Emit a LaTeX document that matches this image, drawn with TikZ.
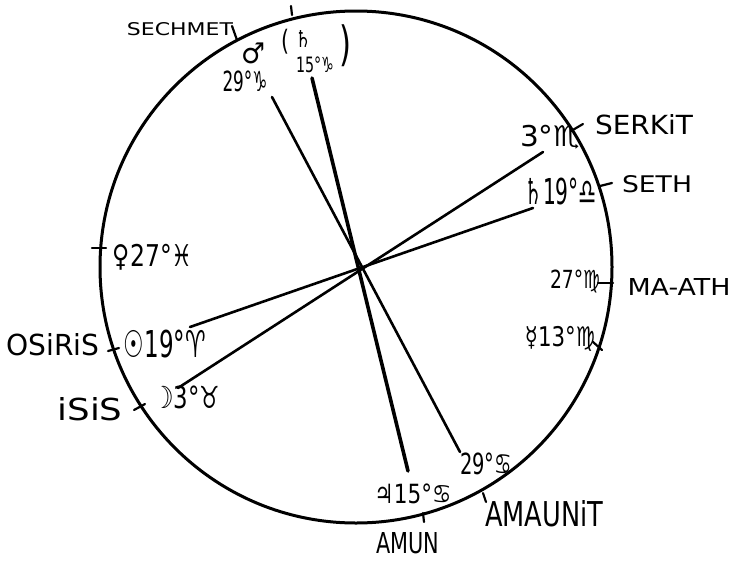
\documentclass[tikz,border=0pt]{standalone}
\usepackage{fontspec}
\setmainfont{DejaVu Sans}
\newcommand\fitwh[3]{\resizebox{#1pt}{#2pt}{#3}}
\newcommand\fitst[3]{\resizebox*{#1pt}{#2pt}{#3}}
\begin{document}
\begin{tikzpicture}[x=1pt,y=-1pt,
  lbl/.style={inner sep=0pt,outer sep=0pt,anchor=center},
  rim/.style={line width=3pt},
  ray/.style={line width=2.6pt,line cap=round},
  thickray/.style={line width=3.6pt,line cap=round},
  tick/.style={line width=2.2pt,line cap=round}]
\useasboundingbox (0,0) rectangle (734,560);
% circle
\coordinate (c) at (356,267);
\draw[rim] (c) circle[radius=256];
% ray end points
\coordinate (mars) at (272,97);
\coordinate (mars2) at (460,452);
\coordinate (sat) at (312,78);
\coordinate (sat2) at (408,471);
\coordinate (serk) at (543,152);
\coordinate (isisl) at (178,388);
\coordinate (seth) at (533,208);
\coordinate (osil) at (190,327);
\draw[ray] (mars) -- (mars2);
\draw[thickray] (sat) -- (sat2);
\draw[ray] (serk) -- (isisl);
\draw[ray] (seth) -- (osil);
% ticks
\coordinate (t1a) at (292,15); \coordinate (t1b) at (291,6);
\draw[tick] (t1a) -- (t1b);
\coordinate (t2a) at (232,26); \coordinate (t2b) at (237,40);
\draw[tick] (t2a) -- (t2b);
\coordinate (t3a) at (571,131); \coordinate (t3b) at (583,124);
\draw[tick] (t3a) -- (t3b);
\coordinate (t4a) at (600,186); \coordinate (t4b) at (612,183);
\draw[tick] (t4a) -- (t4b);
\coordinate (t5a) at (598,283); \coordinate (t5b) at (613,283);
\draw[tick] (t5a) -- (t5b);
\coordinate (t6a) at (593,342); \coordinate (t6b) at (602,350);
\draw[tick] (t6a) -- (t6b);
\coordinate (t7a) at (92,248); \coordinate (t7b) at (106,248);
\draw[tick] (t7a) -- (t7b);
\coordinate (t8a) at (108,351); \coordinate (t8b) at (119,348);
\draw[tick] (t8a) -- (t8b);
\coordinate (t9a) at (134,410); \coordinate (t9b) at (145,404);
\draw[tick] (t9a) -- (t9b);
\coordinate (t10a) at (423,513); \coordinate (t10b) at (424,522);
\draw[tick] (t10a) -- (t10b);
\coordinate (t11a) at (483,493); \coordinate (t11b) at (486,502);
\draw[tick] (t11a) -- (t11b);
% god names
\node[lbl] (sechmet) at (180,29) {\fitwh{106}{13}{SECHMET}};
\node[lbl] (serkit) at (644,125) {\fitwh{98}{20}{SERKiT}};
\node[lbl] (sethn) at (657,184) {\fitwh{70}{17}{SETH}};
\node[lbl] (maath) at (679,287) {\fitwh{103}{17}{MA-ATH}};
\node[lbl] (osiris) at (53,345) {\fitwh{93}{22}{OSiRiS}};
\node[lbl] (isis) at (90,409) {\fitwh{65}{23}{iSiS}};
\node[lbl] (amun) at (408,543) {\fitwh{63}{21}{AMUN}};
\node[lbl] (amaunit) at (544,514) {\fitwh{118}{26}{AMAUNiT}};
% planet positions
\node[lbl] (marsS) at (253,53) {\fitst{24}{21}{♂}};
\node[lbl] (lpar) at (285,42) {\fitst{8}{25}{(}};
\node[lbl] (satS) at (303,39) {\fitst{16}{17}{♄}};
\node[lbl] (rpar) at (345,46) {\fitst{12}{42}{)}};
\node[lbl] (sat15) at (315,65) {\fitst{38}{16}{15°♑}};
\node[lbl] (mars29) at (245,81) {\fitst{45}{21}{29°♑}};
\node[lbl] (serkdeg) at (550,137) {\fitst{60}{24}{3°♏}};
\node[lbl] (sethdeg) at (561,192) {\fitst{72}{27}{♄19°♎}};
\node[lbl] (maathdeg) at (575,281) {\fitst{50}{23}{27°♍}};
\node[lbl] (merc) at (560,339) {\fitst{70}{25}{☿13°♍}};
\node[lbl] (venus) at (153,257) {\fitst{80}{26}{♀27°♓}};
\node[lbl] (sun) at (165,344) {\fitst{82}{28}{☉19°♈}};
\node[lbl] (moon) at (187,397) {\fitst{67}{23}{☽3°♉}};
\node[lbl] (jup) at (413,494) {\fitst{77}{20}{♃15°♋}};
\node[lbl] (amdeg) at (486,464) {\fitst{52}{22}{29°♋}};
\end{tikzpicture}
\end{document}
